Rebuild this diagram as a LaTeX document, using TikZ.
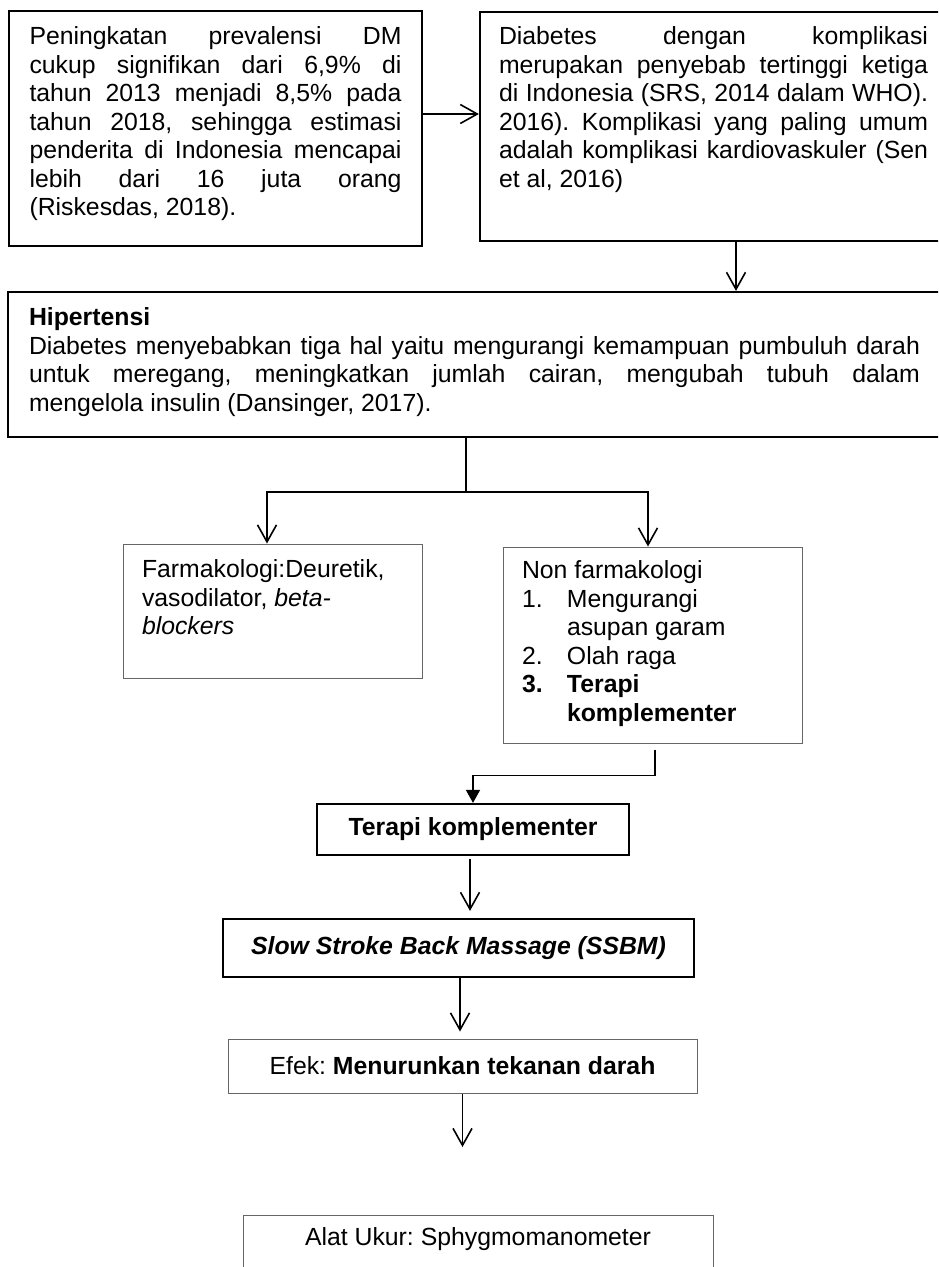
\documentclass[tikz,border=0pt]{standalone}
\usepackage{fontspec}
\setmainfont{Liberation Sans}
\usetikzlibrary{arrows.meta}
\hyphenpenalty=10000
\exhyphenpenalty=10000
\tolerance=10000
\frenchspacing

\begin{document}
\begin{tikzpicture}[x=1pt, y=-1pt,
		kotak/.style={draw=black, line width=2.2pt, font=\fontsize{24.8}{28.5}\selectfont},
		kotaktipis/.style={draw=black!60, line width=1pt, font=\fontsize{24.8}{28.5}\selectfont},
		panah/.style={line width=1.6pt, -{Straight Barb[length=17pt, width=19pt]}},
		panahpenuh/.style={line width=1.6pt, -{Triangle[length=13pt, width=14pt]}}]
		
		\clip (0,0) rectangle (938,1267);
		
		% Kotak atas
		\node[kotak, inner xsep=20.5pt, inner ysep=16pt] (box_prev) at (215.5, 128.5) {\parbox[c][203pt][t]{372pt}{Peningkatan prevalensi DM\linebreak cukup signifikan dari 6,9\% di\linebreak tahun 2013 menjadi 8,5\% pada\linebreak tahun 2018, sehingga estimasi\linebreak penderita di Indonesia mencapai\linebreak lebih dari 16 juta orang\linebreak (Riskesdas, 2018).}};
		\node[kotak, inner xsep=19pt, inner ysep=15pt] (box_komp) at (713.5, 126.5) {\parbox[c][199pt][t]{429pt}{Diabetes dengan komplikasi\linebreak merupakan penyebab tertinggi ketiga\linebreak di Indonesia (SRS, 2014 dalam WHO).\linebreak 2016). Komplikasi yang paling umum\linebreak adalah komplikasi kardiovaskuler (Sen\linebreak et al, 2016)}};
		
		% Hipertensi
		\node[kotak, inner xsep=21pt, inner ysep=16pt] (box_hiper) at (474.5, 364.5) {\parbox[c][113pt][t]{891pt}{\textbf{Hipertensi}\\ Diabetes menyebabkan tiga hal yaitu mengurangi kemampuan pumbuluh darah\linebreak untuk meregang, meningkatkan jumlah cairan, mengubah tubuh dalam\linebreak mengelola insulin (Dansinger, 2017).}};
		
		% Terapi
		\node[kotaktipis, inner xsep=19pt, inner ysep=16pt] (box_farma) at (272.5, 611) {\parbox[c][102pt][t]{261pt}{Farmakologi:Deuretik,\\ vasodilator, \textit{beta-}\\ \textit{blockers}}};
		\node[kotaktipis, inner xsep=19pt, inner ysep=14pt] (box_nonfarma) at (652.5, 645) {\parbox[c][168pt][t]{261pt}{Non farmakologi\\ \makebox[45pt][l]{1.}Mengurangi\\ \hspace*{45pt}asupan garam\\ \makebox[45pt][l]{2.}Olah raga\\ \textbf{\makebox[45pt][l]{3.}Terapi}\\ \hspace*{45pt}\textbf{komplementer}}};
		
		% Alur bawah
		\node[kotak, minimum width=312pt, minimum height=51pt, inner sep=0pt] (box_terapi) at (473, 829.5) {\textbf{Terapi komplementer}};
		\node[kotak, minimum width=471pt, minimum height=58pt, inner sep=0pt] (box_ssbm) at (458.5, 948) {\textbf{\textit{Slow Stroke Back Massage (SSBM)}}};
		\node[kotaktipis, minimum width=469pt, minimum height=54pt, inner sep=0pt] (box_efek) at (462.5, 1066) {Efek: \textbf{Menurunkan tekanan darah}};
		\node[kotaktipis, minimum width=470pt, inner xsep=0pt, inner ysep=12pt, text depth=40pt, anchor=north] (box_alat) at (478, 1215) {Alat Ukur: Sphygmomanometer};
		\coordinate (ujung) at (462.5, 1147);
		
		% Panah
		\draw[panah] ([yshift=14.5pt]box_prev.east) -- ([yshift=14.5pt]box_prev.east -| box_komp.west);
		\draw[panah] ([xshift=22.5pt]box_komp.south) -- ([xshift=22.5pt]box_komp.south |- box_hiper.north);
		\draw[line width=1.6pt] ([xshift=-8.5pt]box_hiper.south) -- ++(0,54) coordinate (cabang);
		\draw[panah] (cabang) -| ([xshift=-5.5pt]box_farma.north);
		\draw[panah] (cabang) -| ([xshift=-4.5pt]box_nonfarma.north);
		\draw[panahpenuh, shorten <=6pt] ([xshift=2.5pt]box_nonfarma.south) -- ++(0,32) -| (box_terapi.north);
		\draw[panah, shorten <=3pt, shorten >=7pt] ([xshift=-3pt]box_terapi.south) -- ([xshift=-3pt]box_terapi.south |- box_ssbm.north);
		\draw[panah, shorten >=7pt] ([xshift=1.5pt]box_ssbm.south) -- ([xshift=1.5pt]box_ssbm.south |- box_efek.north);
		\draw[panah] (box_efek.south) -- (ujung);
		
	\end{tikzpicture}
\end{document}
